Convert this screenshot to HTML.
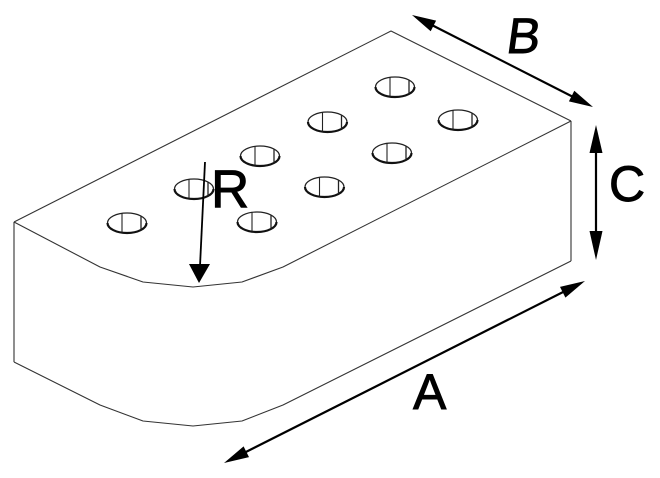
<!DOCTYPE html>
<html><head><meta charset="utf-8"><style>
html,body{margin:0;padding:0;background:#fff;}
svg{display:block;}
text{font-family:"Liberation Sans",Arial,sans-serif;fill:#000;stroke:#000;stroke-width:0.9;}
</style></head><body>
<svg width="660" height="478" viewBox="0 0 660 478" xmlns="http://www.w3.org/2000/svg">
<g fill="none" stroke="#333" stroke-width="1.1" stroke-linejoin="round">
  <polyline points="14,222 391,31 571,121"/>
  <polyline points="14,222 100,267 143,282 193,287 242,282 283,267 571,121"/>
  <line x1="14" y1="222" x2="14" y2="362"/>
  <line x1="571" y1="121" x2="571" y2="261"/>
  <polyline points="14,362 100,405 143,421 193,426 242,421 283,405 571,261"/>
</g>
<defs>
  <g id="h">
    <ellipse cx="0" cy="0" rx="19.5" ry="10" fill="#fff" stroke="#222" stroke-width="1.2"/>
    <path d="M-19.5,0 A19.5,10 0 0 0 19.5,0" fill="none" stroke="#111" stroke-width="2.2"/>
    <line x1="-5" y1="-9.6" x2="-5" y2="9.6" stroke="#222" stroke-width="1.1"/>
    <line x1="14" y1="-6.9" x2="14" y2="6.9" stroke="#222" stroke-width="1.3"/>
  </g>
</defs>
<use href="#h" x="127" y="223"/>
<use href="#h" x="194" y="189"/>
<use href="#h" x="260" y="156"/>
<use href="#h" x="327.5" y="122"/>
<use href="#h" x="395" y="87"/>
<use href="#h" x="257" y="222"/>
<use href="#h" x="324.5" y="187"/>
<use href="#h" x="392" y="153"/>
<use href="#h" x="458" y="120"/>

<g stroke="#000" stroke-width="2.2" fill="none">
  <line x1="420" y1="19" x2="585" y2="103"/>
  <line x1="596" y1="140" x2="596" y2="245"/>
  <line x1="575" y1="286" x2="234" y2="458"/>
  <line x1="205" y1="162" x2="200" y2="266" stroke-width="1.8"/>
</g>
<g fill="#000">
  <polygon points="412,15 430.7,31.2 436.1,20.6"/>
  <polygon points="593,107 568.9,101.4 574.3,90.8"/>
  <polygon points="596,125 589.5,153 602.5,153"/>
  <polygon points="596,260 589.5,231 602.5,231"/>
  <polygon points="585,281 560,286.9 565.4,297.6"/>
  <polygon points="224,463 249,457.1 243.6,446.4"/>
  <polygon points="199,283 189,264 210,264"/>
</g>

<text x="211" y="207" font-size="53">R</text>
<text transform="translate(505,53) skewX(-8)" x="0" y="0" font-size="50">B</text>
<text x="609" y="201" font-size="50">C</text>
<text x="413" y="409" font-size="50">A</text>
</svg>
</body></html>
